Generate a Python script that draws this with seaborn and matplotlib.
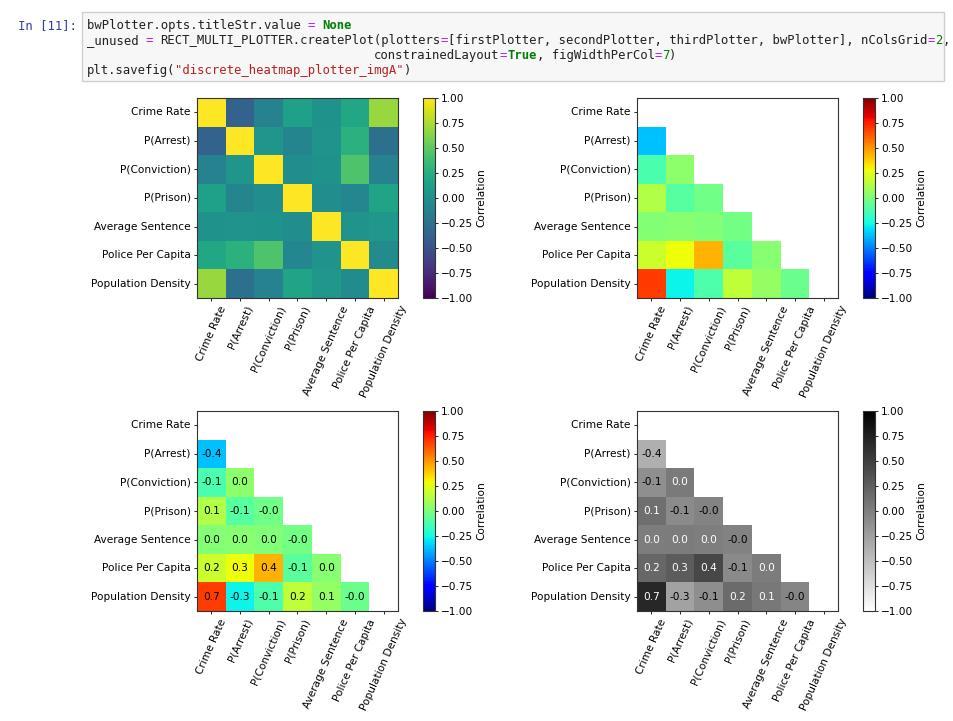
import numpy as np
import pandas as pd
import matplotlib
matplotlib.use("Agg")
import matplotlib.pyplot as plt
from matplotlib.patches import Rectangle
import seaborn as sns

# ---------------- data ----------------
labels = ["Crime Rate", "P(Arrest)", "P(Conviction)", "P(Prison)",
          "Average Sentence", "Police Per Capita", "Population Density"]
row_arrest = [-0.37]
row_conviction = [-0.12, 0.04]
row_prison = [0.13, -0.09, -0.03]
row_sentence = [0.02, 0.03, 0.01, -0.02]
row_police = [0.19, 0.28, 0.44, -0.08, 0.03]
row_density = [0.69, -0.27, -0.11, 0.16, 0.06, -0.04]
lower_rows = [row_arrest, row_conviction, row_prison, row_sentence, row_police, row_density]
cbar_ticks = [-1.0, -0.75, -0.5, -0.25, 0.0, 0.25, 0.5, 0.75, 1.0]

n = len(labels)
corr = np.eye(n)
for i, row in enumerate(lower_rows, start=1):
    for j, v in enumerate(row):
        corr[i, j] = v
        corr[j, i] = v
df = pd.DataFrame(corr, index=labels, columns=labels)
mask = np.triu(np.ones((n, n), dtype=bool))

# ---------------- figure ----------------
W, H = 954, 721
fig = plt.figure(figsize=(W / 100, H / 100), dpi=100)
fig.patch.set_facecolor("white")
renderer = fig.canvas.get_renderer()


def rect(x0, y0, x1, y1):
    return [x0 / W, 1 - y1 / H, (x1 - x0) / W, (y1 - y0) / H]


# ---------------- notebook cell ----------------
box = Rectangle((82 / W, 1 - 81 / H), (944 - 82) / W, (81 - 11.5) / H,
                transform=fig.transFigure, facecolor="#f7f7f7",
                edgecolor="#cfcfcf", linewidth=1.0)
fig.patches.append(box)

mono = "DejaVu Sans Mono"
TARGET_CW = 7.31


def measure_adv(fs):
    t = fig.text(0, 0, "x" * 120, fontsize=fs, family=mono)
    w = t.get_window_extent(renderer).width
    t.remove()
    return w / 120


FS = TARGET_CW / 0.602 * 72 / 100
adv = measure_adv(FS)
FS = FS * TARGET_CW / adv
CW = measure_adv(FS)


def put_seg(x0, base, text, color, weight="normal"):
    fig.text(x0 / W, 1 - base / H, text, fontsize=FS, family=mono,
             color=color, fontweight=weight, va="baseline", ha="left")


put_seg(18, 29.4, "In [11]:", "#303f9f")

K, P, G, R = "#212121", "#aa22ff", "#008000", "#ba2121"
code_lines = [
    [("bwPlotter.opts.titleStr.value ", K, "normal"), ("=", P, "normal"),
     (" ", K, "normal"), ("None", G, "bold")],
    [("_unused ", K, "normal"), ("=", P, "normal"),
     (" RECT_MULTI_PLOTTER.createPlot(plotters", K, "normal"), ("=", P, "normal"),
     ("[firstPlotter, secondPlotter, thirdPlotter, bwPlotter], nColsGrid", K, "normal"),
     ("=", P, "normal"), ("2", G, "normal"), (",", K, "normal")],
    [(" " * 39 + "constrainedLayout", K, "normal"), ("=", P, "normal"),
     ("True", G, "bold"), (", figWidthPerCol", K, "normal"), ("=", P, "normal"),
     ("7", G, "normal"), (")", K, "normal")],
    [("plt.savefig(", K, "normal"), ('"discrete_heatmap_plotter_imgA"', R, "normal"),
     (")", K, "normal")],
]
for li, segs in enumerate(code_lines):
    base = 29.4 + 15 * li
    col = 0
    for txt, c, wgt in segs:
        stripped = txt.lstrip(" ")
        lead = len(txt) - len(stripped)
        if stripped.strip():
            put_seg(86.7 + (col + lead) * CW, base, stripped, c, wgt)
        col += len(txt)

# ---------------- heatmaps ----------------
TFS = 7.6
panels = [
    dict(hm=(197, 98, 398, 298), cb=(423, 98, 435, 298), cmap="viridis", mask=None, annot=False),
    dict(hm=(637, 98, 838, 298), cb=(863, 98, 875, 298), cmap="jet", mask=mask, annot=False),
    dict(hm=(197, 411, 398, 611), cb=(423, 411, 435, 611), cmap="jet", mask=mask, annot=True),
    dict(hm=(637, 411, 838, 611), cb=(863, 411, 875, 611), cmap="gray_r", mask=mask, annot=True, bw=True),
]

for p in panels:
    ax = fig.add_axes(rect(*p["hm"]))
    cax = fig.add_axes(rect(*p["cb"]))
    sns.heatmap(df, ax=ax, cbar_ax=cax, cmap=p["cmap"], vmin=-1, vmax=1,
                mask=p["mask"], annot=p["annot"], fmt=".1f",
                annot_kws={"fontsize": TFS, "color": "black"},
                cbar_kws={"ticks": cbar_ticks})
    if p.get("bw"):
        vals = [corr[i, j] for i in range(n) for j in range(n) if not mask[i, j]]
        for t, v in zip(ax.texts, vals):
            t.set_color("white" if v >= 0 else "black")
    for s in ax.spines.values():
        s.set_visible(True)
        s.set_color("#333333")
        s.set_linewidth(0.8)
    ax.set_xlabel("")
    ax.set_ylabel("")
    ax.set_xticklabels(labels, rotation=66, ha="center", fontsize=TFS)
    ax.set_yticklabels(labels, rotation=0, va="center", fontsize=TFS)
    ax.tick_params(length=2.5, width=0.6, pad=2)
    cax.tick_params(labelsize=TFS, length=2.5, width=0.6, pad=2)
    cax.set_yticklabels([f"{v:.2f}".replace("-", "\u2212") for v in cbar_ticks])
    cax.set_ylabel("Correlation", fontsize=TFS, labelpad=2)
    cb = ax.collections[0].colorbar
    cb.outline.set_edgecolor("#333333")
    cb.outline.set_linewidth(0.8)

fig.savefig("out.png", dpi=100, facecolor="white")
